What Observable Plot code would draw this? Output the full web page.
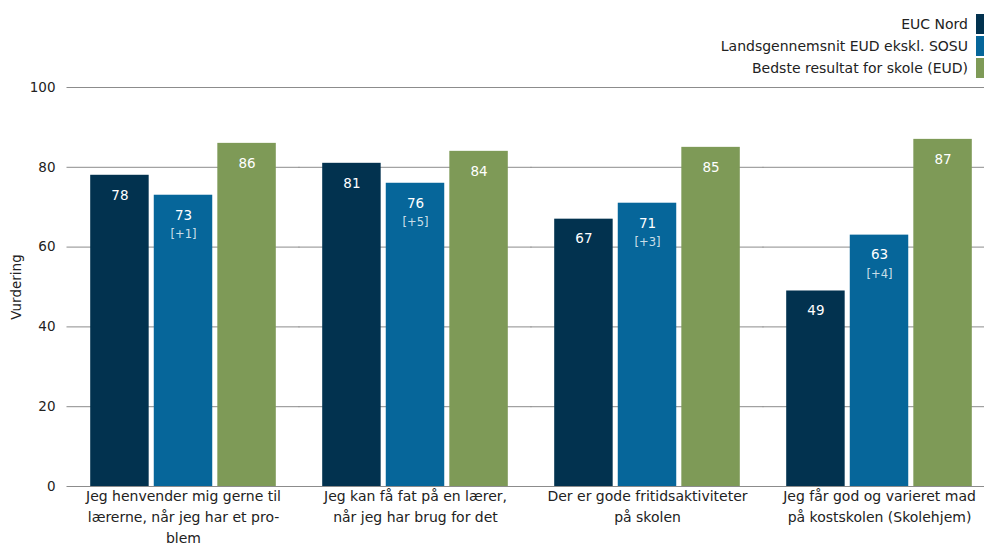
<!DOCTYPE html>
<html>
<head>
<meta charset="utf-8">
<script src="https://cdn.jsdelivr.net/npm/d3@7"></script>
<script src="https://cdn.jsdelivr.net/npm/@observablehq/plot@0.6"></script>
<style>
  body { margin: 0; background: white; font-family: "DejaVu Sans", sans-serif; }
  #wrap { position: relative; width: 984px; height: 550px; overflow: hidden; }
  #legend { position: absolute; top: 13px; right: 0; z-index: 2; }
  .row { display: flex; justify-content: flex-end; align-items: center; height: 22px; font-size: 14px; color: #222; }
  .sw { width: 8px; height: 20px; margin-left: 8px; }
</style>
</head>
<body>
<div id="wrap"><div id="legend"></div></div>
<script>
const categories = [
  "Jeg henvender mig gerne til lærerne, når jeg har et problem",
  "Jeg kan få fat på en lærer, når jeg har brug for det",
  "Der er gode fritidsaktiviteter på skolen",
  "Jeg får god og varieret mad på kostskolen (Skolehjem)"
];
const tickLabels = [
  "Jeg henvender mig gerne til\nlærerne, når jeg har et pro-\nblem",
  "Jeg kan få fat på en lærer,\nnår jeg har brug for det",
  "Der er gode fritidsaktiviteter\npå skolen",
  "Jeg får god og varieret mad\npå kostskolen (Skolehjem)"
];
const series = ["EUC Nord", "Landsgennemsnit EUD ekskl. SOSU", "Bedste resultat for skole (EUD)"];
const colors = ["#02324f", "#06669a", "#7e9a57"];
const eucNord = [78, 81, 67, 49];
const landsgennemsnit = [73, 76, 71, 63];
const landsDelta = ["+1", "+5", "+3", "+4"];
const bedste = [86, 84, 85, 87];
const yTicks = [0, 20, 40, 60, 80, 100];

const data = [];
categories.forEach((c, i) => {
  data.push({group: c, series: series[0], value: eucNord[i], delta: null});
  data.push({group: c, series: series[1], value: landsgennemsnit[i], delta: landsDelta[i]});
  data.push({group: c, series: series[2], value: bedste[i], delta: null});
});

const W = 984, ML = 67, MR = -11;
const step = (W - ML - MR) / 4;
const halfGap = step * 0.1;

const chart = Plot.plot({
  width: W,
  height: 550,
  marginTop: 87,
  marginBottom: 64,
  marginLeft: ML,
  marginRight: MR,
  style: {fontFamily: "DejaVu Sans, sans-serif", fontSize: "13px", color: "#222", background: "transparent"},
  fx: {domain: categories, paddingInner: 0.2, paddingOuter: 0.1, round: false, label: null},
  x: {domain: series, paddingInner: 0.08, paddingOuter: 0, round: false, axis: null},
  y: {domain: [0, 100]},
  color: {domain: series, range: colors},
  marks: [
    Plot.ruleY(yTicks, {stroke: "#8c8c8c", strokeWidth: 1, insetLeft: -halfGap - 0.5, insetRight: -halfGap - 0.5}),
    Plot.axisY({ticks: yTicks, tickSize: 0, tickPadding: halfGap + 12, fontSize: 13.5, label: "Vurdering", labelAnchor: "center", labelArrow: "none", labelOffset: halfGap + 56}),
    Plot.barY(data, {fx: "group", x: "series", y: "value", fill: "series"}),
    Plot.text(data, {fx: "group", x: "series", y: "value", text: d => String(d.value), dy: 20, fill: "white", fontSize: 13.5}),
    Plot.text(data.filter(d => d.delta), {fx: "group", x: "series", y: "value", text: d => `[${d.delta}]`, dy: 39, fill: "white", fillOpacity: 0.8, fontSize: 11.5}),
    Plot.axisFx({anchor: "bottom", tickSize: 0, tickPadding: -1, fontSize: 14, lineHeight: 1.52, label: null,
      tickFormat: d => tickLabels[categories.indexOf(d)]})
  ]
});
document.getElementById("wrap").appendChild(chart);

const legend = document.getElementById("legend");
series.forEach((s, i) => {
  const row = document.createElement("div");
  row.className = "row";
  const t = document.createElement("span");
  t.textContent = s;
  const sw = document.createElement("div");
  sw.className = "sw";
  sw.style.background = colors[i];
  row.appendChild(t);
  row.appendChild(sw);
  legend.appendChild(row);
});
</script>
</body>
</html>
